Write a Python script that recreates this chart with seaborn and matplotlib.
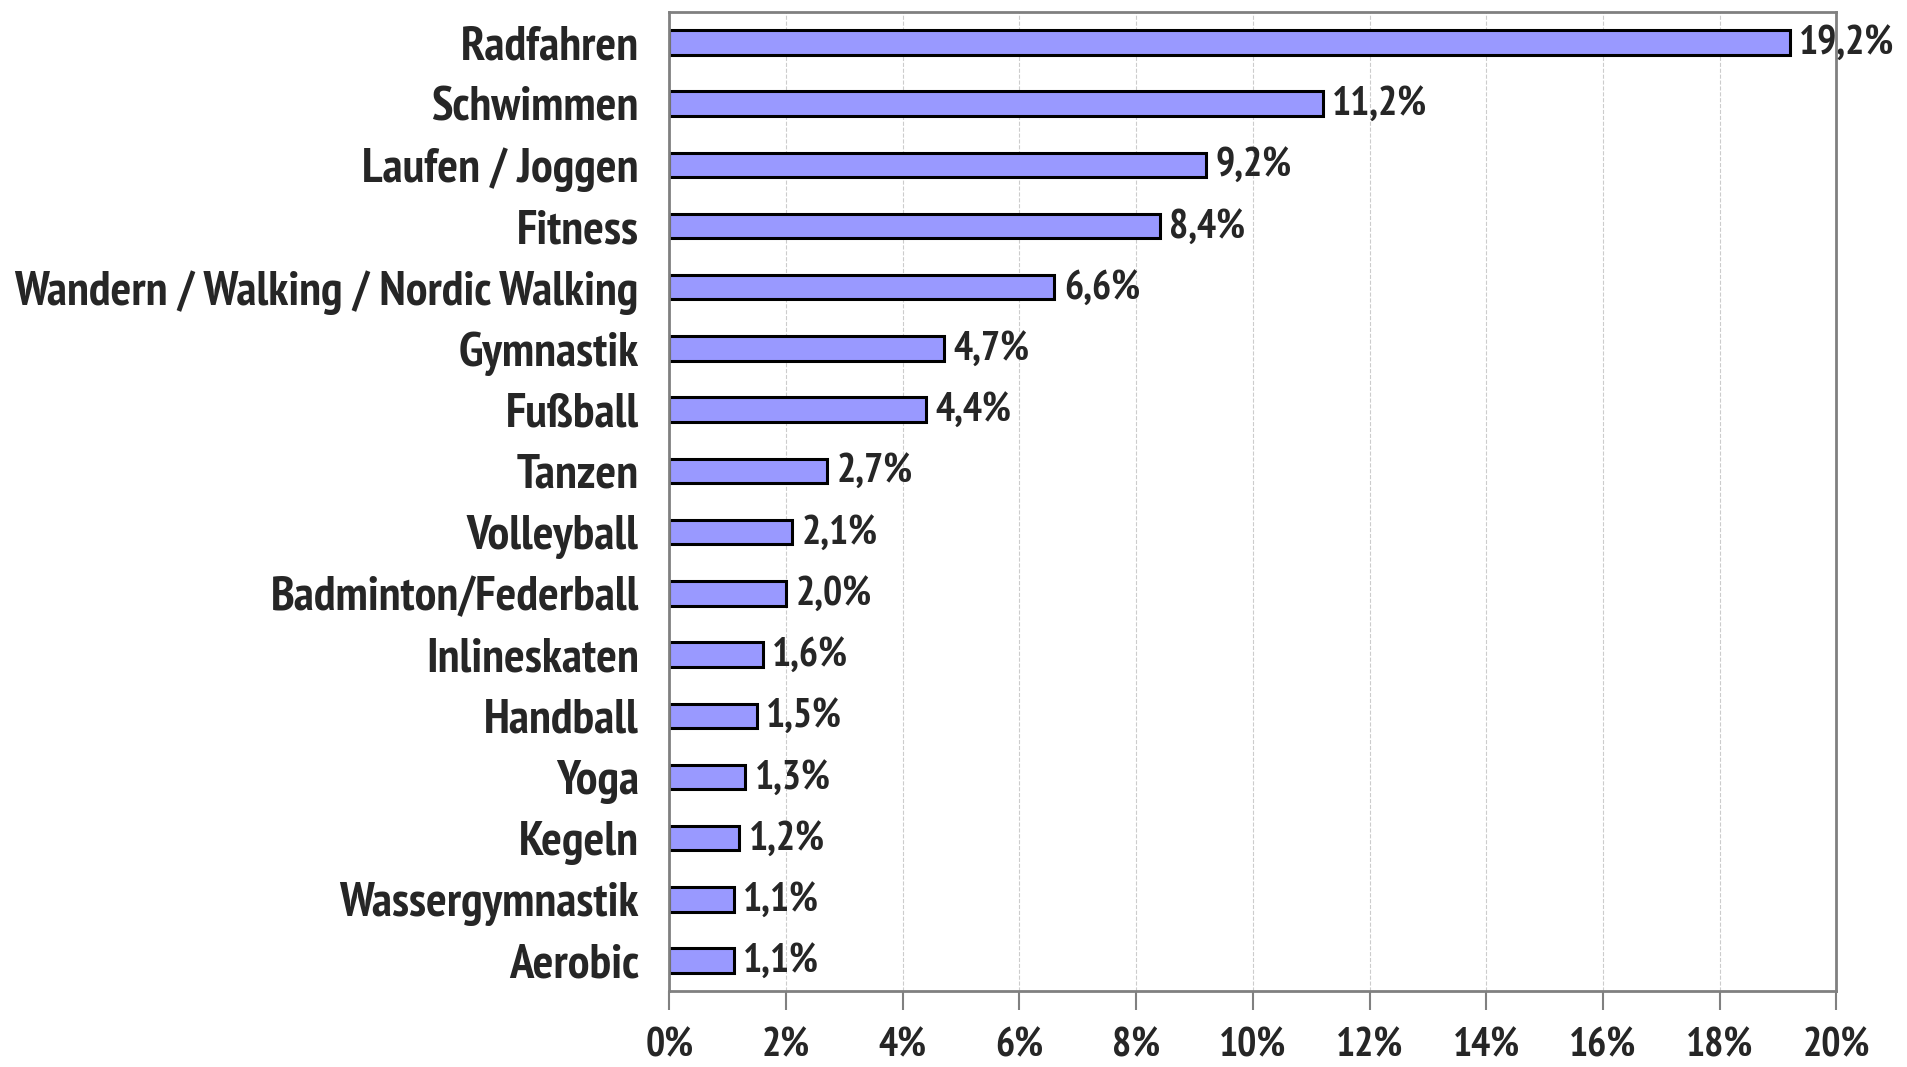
import matplotlib
matplotlib.use('Agg')
import matplotlib.pyplot as plt
import seaborn as sns
import pandas as pd
from matplotlib.ticker import FuncFormatter

# ── Data ─────────────────────────────────────────────────────────────────────
SPORTS = ['Radfahren', 'Schwimmen', 'Laufen / Joggen', 'Fitness',
          'Wandern / Walking / Nordic Walking', 'Gymnastik', 'Fußball',
          'Tanzen', 'Volleyball', 'Badminton/Federball', 'Inlineskaten',
          'Handball', 'Yoga', 'Kegeln', 'Wassergymnastik', 'Aerobic']
SHARE = [19.2, 11.2, 9.2, 8.4, 6.6, 4.7, 4.4, 2.7, 2.1, 2.0, 1.6,
         1.5, 1.3, 1.2, 1.1, 1.1]
X_TICKS = [0, 2, 4, 6, 8, 10, 12, 14, 16, 18, 20]

df = pd.DataFrame({'sport': SPORTS, 'share': SHARE})

sns.set_style('white')
plt.rcParams['font.family'] = ['PT Sans Narrow', 'DejaVu Sans']
plt.rcParams['font.weight'] = 'bold'

fig = plt.figure(figsize=(19.07, 10.67), dpi=100)
ax = fig.add_axes([0.351, 0.071, 0.612, 0.918])

sns.barplot(data=df, x='share', y='sport', orient='h', color='#9999FF',
            saturation=1, edgecolor='black', linewidth=2.2, width=0.4, ax=ax)

ax.set_xlim(0, 20)
ax.set_ylim(len(SPORTS) - 0.5, -0.5)
ax.set_xticks(X_TICKS)
ax.xaxis.set_major_formatter(FuncFormatter(lambda v, _: f'{int(v)}%'))
ax.grid(axis='x', color='#cccccc', linestyle='--', linewidth=0.8)
ax.set_axisbelow(True)
ax.set_xlabel('')
ax.set_ylabel('')

for s in ax.spines.values():
    s.set_color('#808080')
    s.set_linewidth(2)

ax.tick_params(axis='x', which='major', direction='out', length=14, width=1.5,
               color='#808080', pad=12, labelsize=29, bottom=True)
ax.tick_params(axis='y', length=0, pad=22, labelsize=35)
for lbl in ax.get_xticklabels() + ax.get_yticklabels():
    lbl.set_fontweight('bold')

# value labels with German decimal comma
for i, v in enumerate(SHARE):
    ax.text(v + 0.16, i + 0.03, f'{v:.1f}%'.replace('.', ','), va='center',
            ha='left', fontsize=29, fontweight='bold')

fig.savefig('out.png', dpi=100)
